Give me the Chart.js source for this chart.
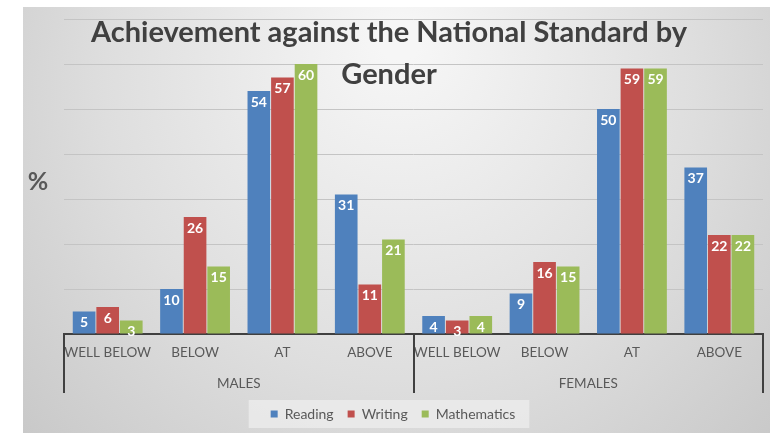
<!DOCTYPE html>
<html>
<head>
<meta charset="utf-8">
<script src="https://cdn.jsdelivr.net/npm/chart.js@4.4.0/dist/chart.umd.min.js"></script>
<style>
  html, body { margin: 0; padding: 0; background: #fff; }
  #wrap { position: relative; width: 770px; height: 433px; }
</style>
</head>
<body>
<div id="wrap"><canvas id="genderCanvas" width="770" height="433"></canvas></div>
<script>
// achievement levels, repeated for each gender
var levels = ['WELL BELOW', 'BELOW', 'AT', 'ABOVE', 'WELL BELOW', 'BELOW', 'AT', 'ABOVE'];
var genders = ['MALES', 'FEMALES'];

var reading     = [5, 10, 54, 31, 4, 9, 50, 37];
var writing     = [6, 26, 57, 11, 3, 16, 59, 22];
var mathematics = [3, 15, 60, 21, 4, 15, 59, 22];

var yTicks = [0, 10, 20, 30, 40, 50, 60, 70];

var titleLines = ['Achievement against the National Standard by', 'Gender'];

// grey sheet behind the chart plus a light panel behind the legend
var backdrop = {
    id: 'backdrop',
    beforeDraw: function (chart) {
        var ctx = chart.ctx;
        ctx.save();
        var g = ctx.createRadialGradient(400, 40, 20, 400, 120, 520);
        g.addColorStop(0, '#f6f6f6');
        g.addColorStop(0.55, '#dedede');
        g.addColorStop(1, '#c6c6c6');
        ctx.fillStyle = g;
        ctx.fillRect(23, 7, chart.width - 23, chart.height - 7);

        var boxes = chart.legend.legendHitBoxes || [];
        if (boxes.length) {
            var l = boxes[0].left - 22;
            var r = boxes[boxes.length - 1].left + boxes[boxes.length - 1].width + 14;
            ctx.fillStyle = 'rgba(236,236,236,0.8)';
            ctx.fillRect(l, boxes[0].top - 7, r - l, boxes[0].height + 14);
        }
        ctx.restore();
    }
};

// value labels, dividers between the gender groups, title and % label
var decorations = {
    id: 'decorations',
    afterDatasetsDraw: function (chart) {
        var ctx = chart.ctx;
        ctx.save();
        ctx.font = 'bold 14px Lato';
        ctx.fillStyle = '#ffffff';
        ctx.textAlign = 'center';
        ctx.textBaseline = 'middle';
        chart.data.datasets.forEach(function (ds, di) {
            chart.getDatasetMeta(di).data.forEach(function (bar, i) {
                ctx.fillText(ds.data[i], bar.x, bar.y + 11);
            });
        });
        ctx.restore();
    },
    afterDraw: function (chart) {
        var ctx = chart.ctx;
        var x = chart.scales.x, x2 = chart.scales.x2;
        var step = x.width / levels.length;
        ctx.save();
        ctx.strokeStyle = '#404040';
        ctx.lineWidth = 2;
        [0, 4, 8].forEach(function (i) {
            var px = Math.round(x.left + i * step);
            ctx.beginPath();
            ctx.moveTo(px, chart.chartArea.bottom);
            ctx.lineTo(px, x2.bottom);
            ctx.stroke();
        });

        ctx.fillStyle = '#404040';
        ctx.textAlign = 'center';
        ctx.textBaseline = 'middle';
        ctx.font = 'bold 29px Lato';
        ctx.fillText(titleLines[0], 389, 33);
        ctx.fillText(titleLines[1], 389, 75);

        ctx.fillStyle = '#595959';
        ctx.font = 'bold 25px Lato';
        ctx.fillText('%', 38, 182);
        ctx.restore();
    }
};

var chartdata = {
    labels: levels,
    datasets: [
        { label: 'Reading', backgroundColor: '#4f81bd', data: reading },
        { label: 'Writing', backgroundColor: '#c0504d', data: writing },
        { label: 'Mathematics', backgroundColor: '#9bbb59', data: mathematics }
    ]
};

var tickFont = { family: 'Lato', size: 13.5 };

new Chart(document.getElementById('genderCanvas'), {
    type: 'bar',
    data: chartdata,
    plugins: [backdrop, decorations],
    options: {
        responsive: false,
        animation: false,
        categoryPercentage: 0.81,
        barPercentage: 0.96,
        layout: { padding: { left: 23, right: 7, top: 19, bottom: 2 } },
        scales: {
            x: {
                grid: { display: false, drawTicks: false },
                border: { display: true, color: '#404040', width: 2 },
                ticks: { color: '#595959', font: tickFont, padding: 11, maxRotation: 0, autoSkip: false },
                afterFit: function (scale) { scale.height = 24; }
            },
            x2: {
                type: 'category',
                labels: genders,
                offset: true,
                weight: 1,
                grid: { display: false, drawTicks: false },
                border: { display: false },
                ticks: { color: '#595959', font: tickFont, padding: 18 },
                afterFit: function (scale) { scale.height = 35; }
            },
            y: {
                min: yTicks[0],
                max: yTicks[yTicks.length - 1],
                ticks: { display: false, stepSize: 10 },
                grid: { color: '#c4c4c4', drawTicks: false },
                border: { display: false },
                afterFit: function (scale) { scale.width = 41; }
            }
        },
        plugins: {
            title: { display: false },
            tooltip: { enabled: false },
            legend: {
                position: 'bottom',
                labels: {
                    usePointStyle: true,
                    pointStyle: 'rect',
                    boxWidth: 7,
                    boxHeight: 7,
                    padding: 14,
                    color: '#595959',
                    font: { family: 'Lato', size: 14 }
                }
            }
        }
    }
});
</script>
</body>
</html>
